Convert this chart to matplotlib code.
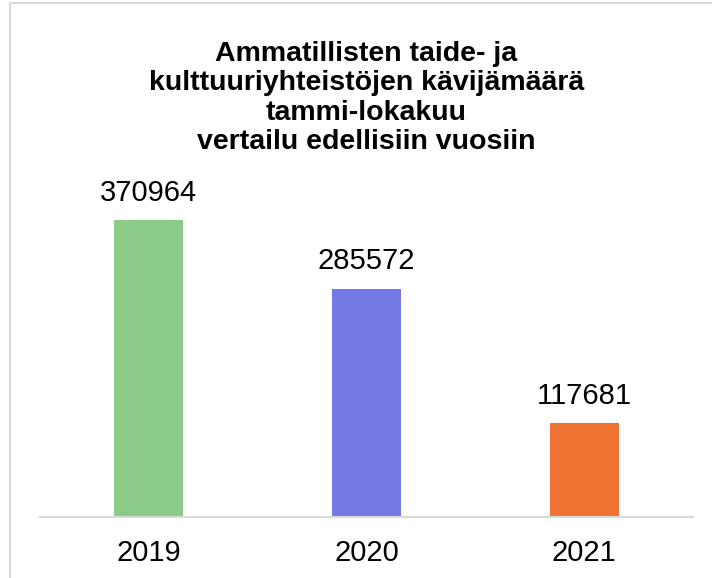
import matplotlib
matplotlib.use('Agg')
import matplotlib.pyplot as plt
from matplotlib.patches import Rectangle

years = ['2019', '2020', '2021']
visitors = [370964, 285572, 117681]
bar_colors = ['#8CCA88', '#7479E6', '#EE7333']
title = ('Ammatillisten taide- ja\n'
         'kulttuuriyhteistöjen kävijämäärä\n'
         'tammi-lokakuu\n'
         'vertailu edellisiin vuosiin')

plt.rcParams['font.family'] = ['Liberation Sans', 'DejaVu Sans']

W, H = 712, 578
fig = plt.figure(figsize=(W / 100, H / 100), dpi=100)

# light grey frame (runs off the right and bottom edges)
fig.patches.append(Rectangle((10 / W, -0.1), 1.2, (H - 3) / H + 0.1,
                             transform=fig.transFigure, fill=False,
                             edgecolor='#D9D9D9', linewidth=1.5))

# axes: baseline at y=517px, from x=40 to x=693
ax = fig.add_axes([40 / W, (H - 517) / H, 653 / W, 320 / H])
x = range(len(years))
bars = ax.bar(x, visitors, width=0.317, color=bar_colors)
ax.set_xlim(-0.5, 2.5)
ax.set_ylim(0, 400000)

for b, v in zip(bars, visitors):
    ax.annotate(str(v), (b.get_x() + b.get_width() / 2, v),
                xytext=(0, 19.5), textcoords='offset points',
                ha='center', va='center', fontsize=21, color='#000000')

ax.set_xticks(list(x))
ax.set_xticklabels(years, fontsize=21)
ax.tick_params(axis='x', length=0, pad=16)
ax.set_yticks([])
for s in ['top', 'right', 'left']:
    ax.spines[s].set_visible(False)
ax.spines['bottom'].set_color('#D9D9D9')
ax.spines['bottom'].set_linewidth(1.5)
ax.patch.set_visible(False)

fig.text(366.5 / W, (H - 98) / H, title, ha='center', va='center',
         fontsize=20.5, fontweight='bold', linespacing=1.17)

plt.savefig('out.png', dpi=100)
